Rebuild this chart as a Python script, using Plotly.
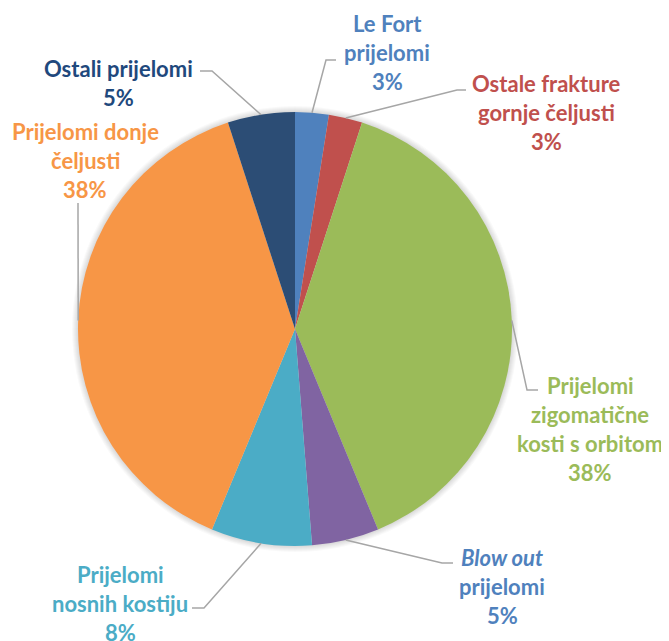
import math
import plotly.graph_objects as go

# podaci (procijenjeno sa slike)
categories = ["Le Fort prijelomi", "Ostale frakture gornje čeljusti",
              "Prijelomi zigomatične kosti s orbitom", "Blow out prijelomi",
              "Prijelomi nosnih kostiju", "Prijelomi donje čeljusti", "Ostali prijelomi"]
values = [2, 2, 31, 4, 6, 31, 4]
pct_text = ["3%", "3%", "38%", "5%", "8%", "38%", "5%"]
label_lines = [
    ["Le Fort", "prijelomi"],
    ["Ostale frakture", "gornje čeljusti"],
    ["Prijelomi", "zigomatične", "kosti s orbitom"],
    ["<i>Blow out</i>", "prijelomi"],
    ["Prijelomi", "nosnih kostiju"],
    ["Prijelomi donje", "čeljusti"],
    ["Ostali prijelomi"],
]

# stil
colors = ["#4F81BD", "#C0504D", "#9BBB59", "#8064A2", "#4BACC6", "#F79646", "#2C4D75"]
text_colors = ["#4F81BD", "#C0504D", "#9BBB59", "#4F81BD", "#4BACC6", "#F79646", "#1F497D"]
W, H = 669, 641
OFF = 8  # body margin of the page
cx, cy, R = 295, 329, 217
label_pos = [(387, 23), (546, 83), (590, 385), (502, 557), (120, 574), (85, 131), (118, 68)]
elbows = [((326, 60), (336, 60)), ((457, 90), (466, 90)), ((527, 390), (538, 390)),
          ((442, 563), (453, 563)), ((204, 608), (192, 608)), ((78, 203), (78, 203)),
          ((212, 71), (200, 71))]
line_gap = 29

fig = go.Figure()
fig.add_trace(go.Pie(
    labels=categories, values=values, sort=False, direction="clockwise", rotation=0,
    marker=dict(colors=colors, line=dict(width=0)), textinfo="none",
    domain=dict(x=[(cx - R - OFF) / W, (cx + R - OFF) / W],
                y=[(H - cy - R + OFF) / H, (H - cy + R + OFF) / H]),
    showlegend=False,
))

total = sum(values)
cum = 0
shapes = []
annotations = []

# blagi sjenčani rub oko kruga
for k in range(1, 7):
    r = R + k
    shapes.append(dict(type="circle", xref="x", yref="y", layer="below",
                       x0=cx - r, x1=cx + r, y0=cy - r, y1=cy + r,
                       fillcolor="rgba(0,0,0,0.025)", line=dict(width=0)))

for i, v in enumerate(values):
    mid = (cum + v / 2) / total * 2 * math.pi
    cum += v
    ax = cx + R * math.sin(mid)
    ay = cy - R * math.cos(mid)
    (ex, ey), (fx, fy) = elbows[i]
    shapes.append(dict(type="path", xref="x", yref="y",
                       path=f"M {ax:.1f} {ay:.1f} L {ex} {ey} L {fx} {fy}",
                       line=dict(color="#A6A6A6", width=1.5)))
    lx, ly = label_pos[i]
    for j, t in enumerate(label_lines[i] + [pct_text[i]]):
        annotations.append(dict(x=lx, y=ly + j * line_gap, xref="x", yref="y", text=f"<b>{t}</b>",
                                showarrow=False, xanchor="center", yanchor="middle",
                                font=dict(family="Lato", size=22, color=text_colors[i])))

fig.update_layout(
    width=W, height=H, margin=dict(l=0, r=0, t=0, b=0),
    paper_bgcolor="white", plot_bgcolor="white",
    xaxis=dict(range=[OFF, W + OFF], visible=False, fixedrange=True),
    yaxis=dict(range=[H + OFF, OFF], visible=False, fixedrange=True),
    shapes=shapes, annotations=annotations,
)

fig.write_html("out.html")
